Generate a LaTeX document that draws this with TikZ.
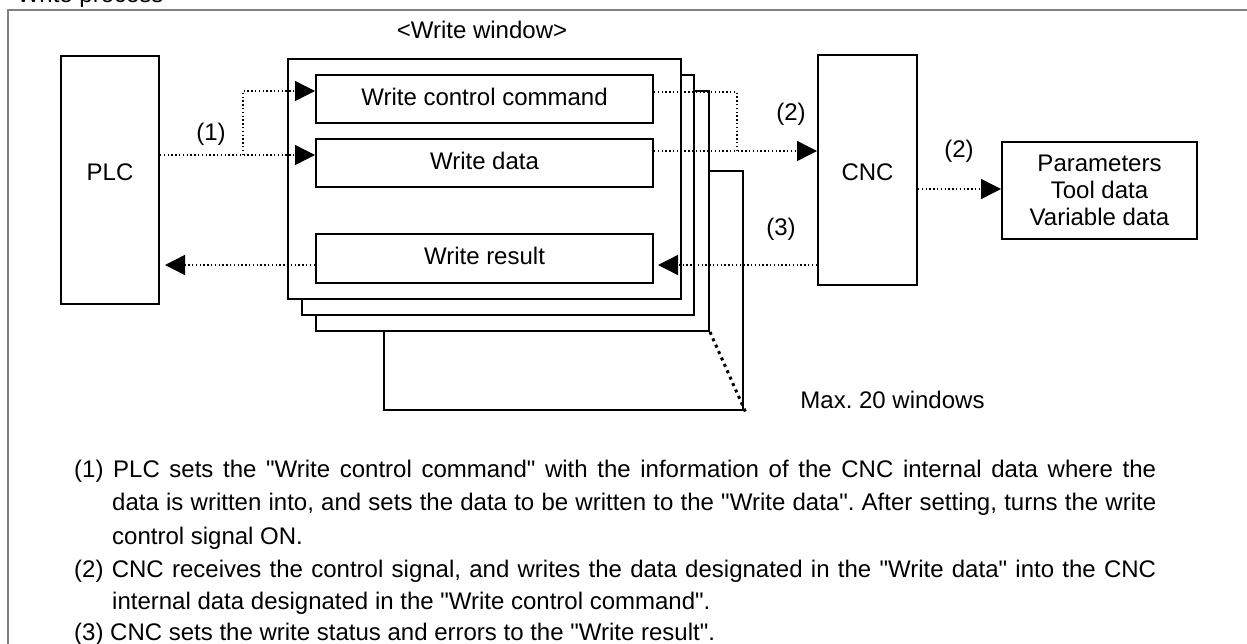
\documentclass[tikz,border=0pt]{standalone}
\usepackage{fontspec}
\setmainfont{Liberation Sans}
\newfontfamily\lsans{Liberation Sans}
\usetikzlibrary{arrows.meta}
\definecolor{framegray}{RGB}{128,128,128}
\frenchspacing
\begin{document}
\begin{tikzpicture}[x=1pt,y=-1pt,
  every node/.style={inner sep=0pt, font=\lsans\fontsize{24}{28}\selectfont},
  box/.style={draw, line width=2pt, fill=white},
  winbox/.style={box, minimum width=393pt, minimum height=240pt},
  field/.style={box, minimum width=337pt, minimum height=48pt, text height=17pt, text depth=5pt},
  flow/.style={line width=1.4pt, dash pattern=on 1.4pt off 2.4pt},
  head/.style={-{Triangle[length=20pt,width=20pt]}},
  txt/.style={anchor=base},
  body/.style={anchor=base west, font=\lsans\frenchspacing\fontsize{24}{28}\selectfont},
]
\useasboundingbox (0,0) rectangle (1247,643);
% outer frame
\draw[framegray, line width=2.5pt] (8,660) -- (8,10) -- (1260,10);
\node[anchor=base west] (title) at (3,2) {<Write process>};

% PLC and CNC
\node[box, minimum width=98pt, minimum height=248pt] (plc) at (110,180) {};
\node[txt] (plctext) at (110,180.6) {PLC};
\node[box, minimum width=99pt, minimum height=230pt] (cnc) at (867.5,170) {};
\node[txt] (cnctext) at (867.5,180.6) {CNC};

% stacked write windows
\node[winbox, minimum width=359pt, minimum height=239pt] (w4) at (563.5,290.5) {};
\node[winbox] (w3) at (512.5,211) {};
\node[winbox, minimum width=392pt] (w2) at (498,195) {};
\node[winbox] (w1) at (484.5,179) {};
\node[field] (wcc) at (484.5,99) {Write control command};
\node[field] (wd) at (484.5,163) {Write data};
\node[field, minimum height=49pt] (wr) at (484.5,258.5) {Write result};
\node[txt] (wintitle) at (482,38.3) {<Write window>};

% CNC internal data
\node[box, minimum width=195pt, minimum height=97pt, align=center,
      font=\lsans\fontsize{24}{27}\selectfont] (par) at (1099.5,190.5)
      {Parameters\\Tool data\\Variable data};

% helper coordinates
\coordinate (ya) at (0,91);
\coordinate (yb) at (0,155);
\coordinate (yc) at (0,92);
\coordinate (yd) at (0,151);
\coordinate (ye) at (0,265);
\coordinate (yf) at (0,189);
\coordinate (ja) at (243,0);
\coordinate (jb) at (737,0);
\coordinate (wrtip) at ([xshift=4pt]wr.east);
\coordinate (plctip) at ([xshift=5pt]plc.east);

% connectors
\draw[flow, head] (plc.east |- yb) -- (wd.west |- yb);
\draw[flow, head] (ja |- yb) |- (wcc.west |- ya);
\draw[flow] (wcc.east |- yc) -| (jb |- yd);
\draw[flow, head] (wd.east |- yd) -- (cnc.west |- yd);
\draw[flow, head] (cnc.west |- ye) -- (wrtip |- ye);
\draw[flow, head] (wr.west |- ye) -- (plctip |- ye);
\draw[flow, head] (cnc.east |- yf) -- (par.west |- yf);
\draw[line width=3pt, dash pattern=on 3pt off 4pt] (w3.south east) -- ([shift={(2,2)}]w4.south east);

% labels
\node[txt] (l1) at (211,140) {(1)};
\node[txt] (l2) at (791,120) {(2)};
\node[txt] (l3) at (781,235) {(3)};
\node[txt] (l4) at (959,157) {(2)};
\node[txt] (maxw) at (892.5,408) {Max. 20 windows};

% explanation
\node[body] (b1) at (74,477) {\makebox[1082pt][s]{(1) PLC sets the "Write control command" with the information of the CNC internal data where the}};
\node[body] (b2) at (112,510.5) {\makebox[1044pt][s]{data is written into, and sets the data to be written to the "Write data". After setting, turns the write}};
\node[body] (b3) at (112,544) {control signal ON.};
\node[body] (b4) at (74,577) {\makebox[1082pt][s]{(2) CNC receives the control signal, and writes the data designated in the "Write data" into the CNC}};
\node[body] (b5) at (112,609.5) {internal data designated in the "Write control command".};
\node[body] (b6) at (74,640) {(3) CNC sets the write status and errors to the "Write result".};
\end{tikzpicture}
\end{document}
